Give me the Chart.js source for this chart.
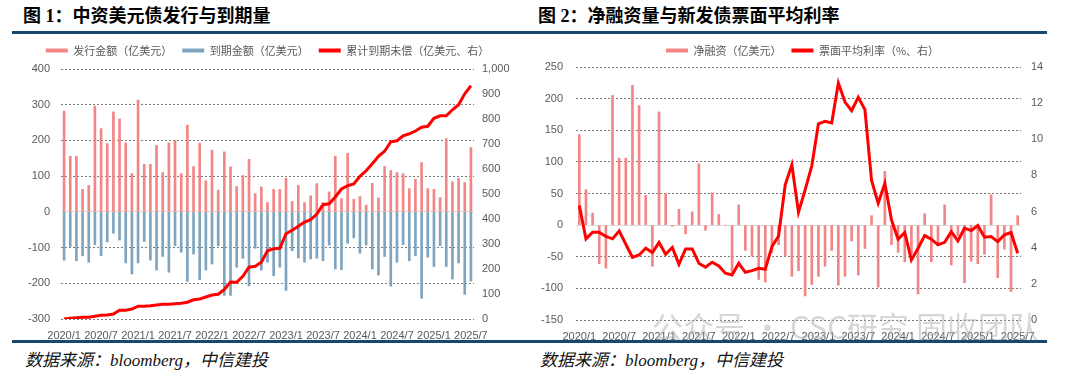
<!DOCTYPE html>
<html>

<head>
    <meta charset="utf-8">
    <title>中资美元债发行与到期量</title>
    <script src="https://cdn.jsdelivr.net/npm/chart.js"></script>
    <style>
        body {
            margin: 0;
            width: 1070px;
            height: 374px;
            background: #fff;
            position: relative;
            overflow: hidden;
            font-family: "Noto Sans CJK SC", sans-serif;
        }

        .title {
            position: absolute;
            top: 4px;
            font-family: "Liberation Serif", "Noto Sans CJK SC", serif;
            font-size: 18px;
            font-weight: 700;
            line-height: 24px;
            color: #000;
            white-space: nowrap;
        }

        .rule {
            position: absolute;
            left: 12px;
            width: 1035px;
            height: 3px;
            background: #17496e;
        }

        .source {
            position: absolute;
            top: 349px;
            font-family: "Liberation Serif", "Noto Sans CJK SC", serif;
            font-size: 17px;
            font-style: italic;
            line-height: 24px;
            color: #111;
            white-space: nowrap;
        }

        .chart-box {
            position: absolute;
            top: 35px;
            width: 535px;
            height: 305px;
        }

        .chart-box canvas {
            display: block;
        }

        .mark {
            position: absolute;
            left: 652px;
            top: 303px;
            font-size: 31px;
            color: rgba(175, 175, 175, 0.5);
            white-space: nowrap;
            pointer-events: none;
        }
    </style>
</head>

<body>
    <div class="title" style="left:23px;">图 1：中资美元债发行与到期量</div>
    <div class="title" style="left:538px;">图 2：净融资量与新发债票面平均利率</div>
    <div class="rule" style="top:31px;"></div>

    <!-- Chart 1: issuance vs maturity -->
    <div class="chart-box" style="left:0;">
        <canvas id="issueChart" width="535" height="305"></canvas>
    </div>

    <!-- Chart 2: net financing and coupon -->
    <div class="chart-box" style="left:535px;">
        <canvas id="netChart" width="535" height="305"></canvas>
    </div>

    <div class="mark">公众号 · CSC研究 固收团队</div>

    <div class="rule" style="top:340px;"></div>
    <div class="source" style="left:25px;">数据来源：bloomberg，中信建投</div>
    <div class="source" style="left:540px;">数据来源：bloomberg，中信建投</div>

    <script>
        // months 2020/1 .. 2025/7
        var months = [];
        for (var yr = 2020; yr <= 2025; yr++) {
            for (var m = 1; m <= 12; m++) {
                if (yr === 2025 && m > 7) break;
                months.push(yr + '/' + m);
            }
        }

        // Chart 1 (亿美元)
        var issuance = [282, 156, 156, 63, 74, 296, 233, 191, 280, 260,
            193, 107, 313, 133, 133, 186, 110, 193, 200, 107,
            243, 127, 192, 87, 173, 61, 168, 126, 71, 102,
            147, 51, 70, 26, 63, 63, 94, 29, 74, 26,
            45, 79, 26, 56, 156, 37, 164, 35, 43, 19,
            80, 39, 127, 116, 110, 107, 65, 91, 138, 65,
            63, 40, 205, 84, 94, 82, 180];
        var maturity = [-135, -97, -137, -123, -141, -92, -123, -84, -60, -79,
            -143, -174, -143, -83, -135, -163, -125, -169, -95, -113,
            -195, -118, -190, -163, -146, -95, -234, -234, -155, -130,
            -207, -102, -163, -141, -179, -155, -220, -109, -129, -141,
            -132, -130, -137, -93, -160, -162, -88, -73, -116, -93,
            -160, -177, -125, -208, -141, -92, -137, -123, -242, -127,
            -153, -95, -153, -188, -143, -231, -194];
        var outstanding = [0, 3, 5, 7, 7, 11, 15, 16, 20, 35,
            35, 40, 51, 51, 53, 56, 59, 59, 61, 63,
            67, 77, 80, 88, 96, 99, 118, 148, 147, 171,
            207, 211, 227, 273, 281, 283, 341, 355, 371, 388,
            397, 420, 457, 461, 488, 520, 533, 540, 571, 593,
            621, 651, 671, 709, 713, 733, 741, 752, 767, 771,
            803, 813, 813, 837, 857, 901, 933];

        // Chart 2
        var netFinancing = [143, 56, 19, -61, -68, 205, 106, 106, 221, 189,
            47, -65, 179, 50, -2, 25, -14, 21, 97, -8,
            51, 17, 0, -78, 32, -40, -49, -86, -90, -44,
            -31, -49, -81, -72, -112, -94, -81, -65, -40, -95,
            -81, -25, -79, -37, 15, -98, 85, -31, -43, -58,
            -45, -109, 18, -58, -32, 32, -63, -17, -91, -57,
            -61, -46, 48, -83, -38, -105, 15];
        var coupon = [6.34, 4.49, 4.86, 4.86, 4.62, 4.49, 4.93, 4.19, 3.47, 3.60,
            3.97, 3.73, 4.29, 3.64, 4.01, 3.08, 3.93, 3.93, 3.14, 2.92,
            3.20, 2.99, 2.59, 2.49, 3.14, 2.64, 2.73, 2.86, 2.81, 4.06,
            4.65, 7.48, 8.59, 5.97, 7.20, 8.53, 10.86, 10.99, 10.90, 13.11,
            12.06, 11.58, 12.32, 11.64, 7.72, 6.46, 7.57, 5.54, 4.47, 4.84,
            3.32, 3.97, 4.67, 4.47, 4.16, 4.30, 4.89, 4.38, 5.08, 4.95,
            5.23, 4.58, 4.62, 4.34, 4.71, 4.84, 3.69];

        var pink = '#f28686';
        var blue = '#7fa4c0';
        var red = '#ff0000';
        var tickFont = { family: '"Liberation Sans", "Noto Sans CJK SC", sans-serif', size: 11 };
        var tickColor = '#595959';

        // pushes the plot area down a few px below the legend
        function legendGap(px) {
            return {
                id: 'legendGap',
                beforeInit: function (chart) {
                    var fit = chart.legend.fit;
                    chart.legend.fit = function () {
                        fit.bind(chart.legend)();
                        this.height += px;
                    };
                }
            };
        }

        function legendOpts() {
            return {
                position: 'top',
                labels: {
                    boxWidth: 22,
                    boxHeight: 4,
                    padding: 10,
                    color: tickColor,
                    font: { family: '"Noto Sans CJK SC", sans-serif', size: 11 },
                    generateLabels: function (chart) {
                        var items = Chart.defaults.plugins.legend.labels.generateLabels(chart);
                        items.forEach(function (it) { it.lineWidth = 0; });
                        // keep dataset order, not draw order
                        items.sort(function (a, b) { return a.datasetIndex - b.datasetIndex; });
                        return items;
                    }
                }
            };
        }

        function xAxis(h) {
            return {
                grid: { display: false },
                border: { display: false },
                ticks: {
                    autoSkip: false,
                    maxRotation: 0,
                    padding: 2,
                    color: tickColor,
                    font: tickFont,
                    callback: function (v, i) { return i % 6 === 0 ? months[i] : ''; }
                },
                afterFit: function (s) { s.height = h; }
            };
        }

        function leftAxis(min, max, step, w, pad) {
            return {
                position: 'left',
                min: min,
                max: max,
                ticks: { stepSize: step, padding: pad, color: tickColor, font: tickFont },
                grid: {
                    drawTicks: false,
                    color: function (c) { return c.tick && c.tick.value === 0 ? '#d9d9d9' : '#7a7a7a'; }
                },
                border: {
                    display: false,
                    dash: function (c) { return c.tick && c.tick.value === 0 ? [] : [2, 2]; }
                },
                afterFit: function (s) { s.width = w; }
            };
        }

        function rightAxis(min, max, step, w, pad) {
            return {
                position: 'right',
                min: min,
                max: max,
                ticks: { stepSize: step, padding: pad, color: tickColor, font: tickFont },
                grid: { display: false, drawTicks: false },
                border: { display: false },
                afterFit: function (s) { s.width = w; }
            };
        }

        // Chart 1
        var issueCtx = document.getElementById('issueChart').getContext('2d');
        var issueChart = new Chart(issueCtx, {
            data: {
                labels: months,
                datasets: [{
                    type: 'bar',
                    label: '发行金额（亿美元）',
                    data: issuance,
                    backgroundColor: pink,
                    barThickness: 2,
                    grouped: false,
                    order: 2
                }, {
                    type: 'bar',
                    label: '到期金额（亿美元）',
                    data: maturity,
                    backgroundColor: blue,
                    barThickness: 2,
                    grouped: false,
                    order: 2
                }, {
                    type: 'line',
                    label: '累计到期未偿（亿美元、右）',
                    data: outstanding,
                    yAxisID: 'y1',
                    borderColor: red,
                    backgroundColor: red,
                    borderWidth: 3,
                    pointRadius: 0,
                    tension: 0,
                    order: 1
                }]
            },
            options: {
                responsive: false,
                animation: false,
                layout: { padding: 0 },
                plugins: { legend: legendOpts(), tooltip: { enabled: false } },
                scales: {
                    x: xAxis(21),
                    y: leftAxis(-300, 400, 100, 61, 11),
                    y1: rightAxis(0, 1000, 100, 61, 8)
                }
            },
            plugins: [legendGap(3)]
        });

        // Chart 2
        var netCtx = document.getElementById('netChart').getContext('2d');
        var netChart = new Chart(netCtx, {
            data: {
                labels: months,
                datasets: [{
                    type: 'bar',
                    label: '净融资（亿美元）',
                    data: netFinancing,
                    backgroundColor: pink,
                    barThickness: 2,
                    order: 2
                }, {
                    type: 'line',
                    label: '票面平均利率（%、右）',
                    data: coupon,
                    yAxisID: 'y1',
                    borderColor: red,
                    backgroundColor: red,
                    borderWidth: 3,
                    pointRadius: 0,
                    tension: 0,
                    order: 1
                }]
            },
            options: {
                responsive: false,
                animation: false,
                layout: { padding: 0 },
                plugins: { legend: legendOpts(), tooltip: { enabled: false } },
                scales: {
                    x: xAxis(20),
                    y: leftAxis(-150, 250, 50, 41, 13),
                    y1: rightAxis(0, 14, 2, 49, 10)
                }
            },
            plugins: [legendGap(1)]
        });
    </script>
</body>

</html>
